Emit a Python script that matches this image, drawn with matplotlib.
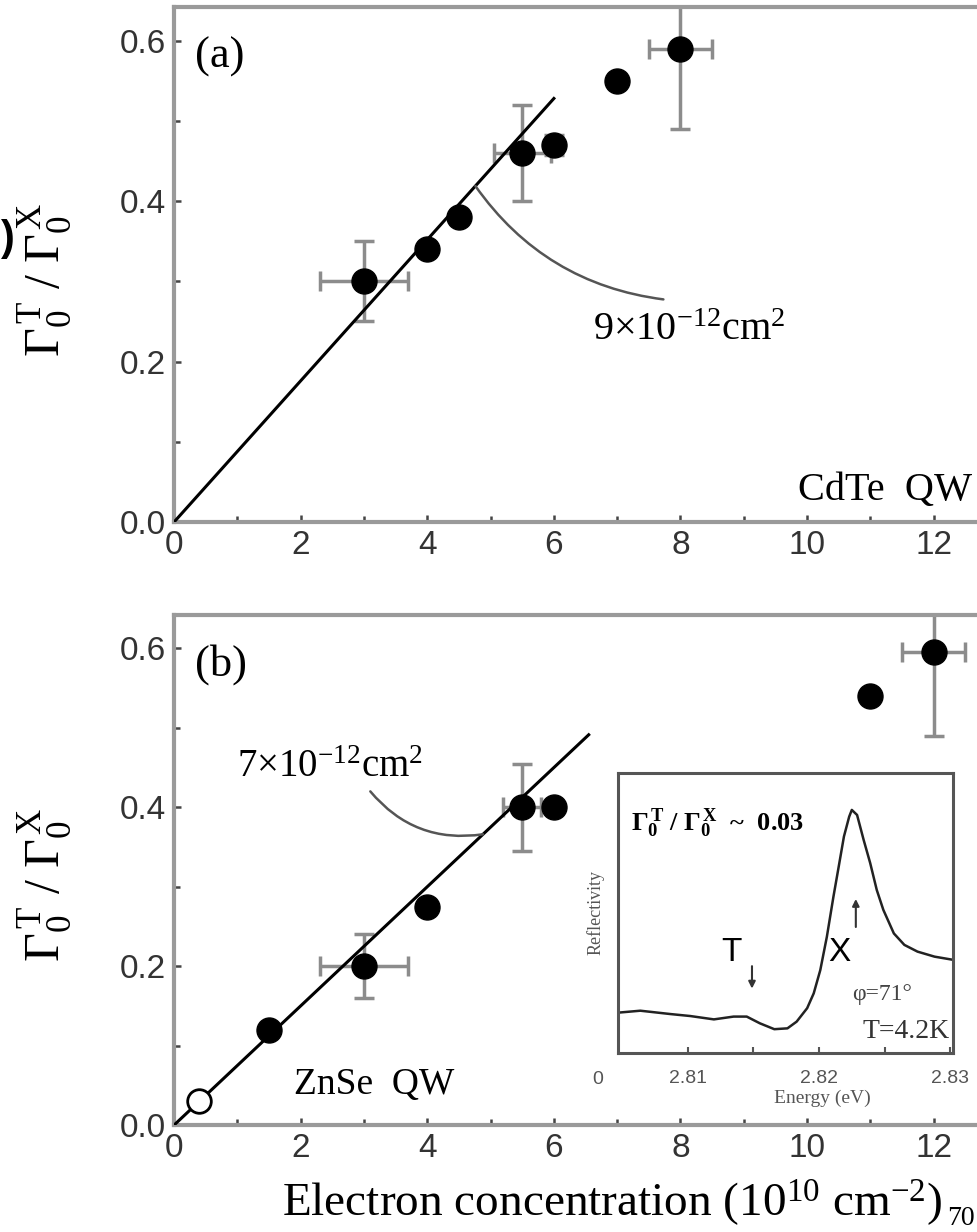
import matplotlib
matplotlib.use("Agg")
import matplotlib.pyplot as plt
import numpy as np
from matplotlib.ticker import MultipleLocator

# ---- panel (a): CdTe QW ----
cdte_n = [3.0, 4.0, 4.5, 5.5, 6.0, 7.0, 8.0]
cdte_ratio = [0.30, 0.34, 0.38, 0.46, 0.47, 0.55, 0.59]
cdte_xerr = [0.7, 0.0, 0.0, 0.45, 0.0, 0.0, 0.5]
cdte_yerr = [0.05, 0.0, 0.0, 0.06, 0.012, 0.0, 0.10]
cdte_slope = 0.088          # 9x10^-12 cm^2
cdte_fit_range = [0.0, 6.0]

# ---- panel (b): ZnSe QW ----
znse_n = [1.5, 3.0, 4.0, 5.5, 6.0, 11.0, 12.0]
znse_ratio = [0.12, 0.20, 0.275, 0.40, 0.40, 0.54, 0.595]
znse_xerr = [0.0, 0.7, 0.0, 0.3, 0.0, 0.0, 0.5]
znse_yerr = [0.0, 0.04, 0.0, 0.055, 0.0, 0.0, 0.105]
znse_open_n = [0.4]
znse_open_ratio = [0.03]
znse_slope = 0.075          # 7x10^-12 cm^2
znse_fit_range = [0.0, 6.55]

# ---- inset: reflectivity spectrum ----
energy = [2.8047, 2.8064, 2.8087, 2.8102, 2.8120, 2.8135, 2.8145, 2.8155,
          2.8166, 2.8176, 2.8183, 2.8191, 2.8196, 2.8201, 2.8206, 2.8211,
          2.8215, 2.8219, 2.8223, 2.8225, 2.8229, 2.8234, 2.8239, 2.8244,
          2.8249, 2.8257, 2.8265, 2.8275, 2.8288, 2.8303]
reflectivity = [0.144, 0.151, 0.139, 0.132, 0.120, 0.130, 0.130, 0.106,
                0.085, 0.088, 0.112, 0.160, 0.213, 0.296, 0.415, 0.558,
                0.665, 0.773, 0.844, 0.868, 0.850, 0.761, 0.678, 0.582,
                0.511, 0.427, 0.386, 0.362, 0.344, 0.332]
inset_ticks = [2.81, 2.82, 2.83]

SERIF = "Liberation Serif"
SANS = "Liberation Sans"
plt.rcParams["font.family"] = SERIF
plt.rcParams["mathtext.fontset"] = "stix"
plt.rcParams["mathtext.default"] = "regular"

SPINE = "#9a9a9a"
BAR = "#8c8c8c"
XMAX = 12.7
YMAX = 0.642

fig = plt.figure(figsize=(9.78, 12.32), dpi=100)
ax_a = fig.add_axes([0.178, 0.5763, 0.822, 0.418])
ax_b = fig.add_axes([0.178, 0.0868, 0.822, 0.4140])


def style_axes(ax):
    ax.set_xlim(0, XMAX)
    ax.set_ylim(0, YMAX)
    ax.spines["right"].set_visible(False)
    for side in ("left", "bottom", "top"):
        ax.spines[side].set_color(SPINE)
        ax.spines[side].set_linewidth(3)
    ax.xaxis.set_major_locator(MultipleLocator(2))
    ax.xaxis.set_minor_locator(MultipleLocator(1))
    ax.yaxis.set_major_locator(MultipleLocator(0.2))
    ax.yaxis.set_minor_locator(MultipleLocator(0.1))
    ax.yaxis.set_major_formatter(matplotlib.ticker.FormatStrFormatter("%.1f"))
    ax.tick_params(which="both", direction="in", color="#444444", width=1.8,
                   top=False, right=False)
    ax.tick_params(which="major", length=5, labelsize=24, labelcolor="#333333",
                   labelfontfamily=SANS, pad=6)
    ax.tick_params(which="minor", length=4)
    ax.set_ylabel(r"$\Gamma_0^{\,T}\ /\ \Gamma_0^{\,X}$", fontsize=36)
    ax.yaxis.set_label_coords(-0.125, 0.47)


def draw_panel(ax, n, ratio, xerr, yerr, slope, fit_range):
    ax.errorbar(n, ratio, xerr=xerr, yerr=yerr, fmt="none", ecolor=BAR,
                elinewidth=2.5, capsize=7, capthick=2.5, zorder=2)
    ax.plot(n, ratio, "o", color="black", markersize=18, zorder=4)
    fx = np.array(fit_range)
    ax.plot(fx, slope * fx, color="black", linewidth=2.2, zorder=3)


# panel (a)
style_axes(ax_a)
draw_panel(ax_a, cdte_n, cdte_ratio, cdte_xerr, cdte_yerr, cdte_slope, cdte_fit_range)
ax_a.annotate("", xy=(4.76, cdte_slope * 4.76), xytext=(7.73, 0.2775),
              arrowprops=dict(arrowstyle="-", color="#555555", lw=1.8,
                              connectionstyle="arc3,rad=-0.22",
                              shrinkA=0, shrinkB=0))
ax_a.text(6.62, 0.262, "9×10$^{-12}$cm$^{2}$", fontsize=29, ha="left", va="top")
ax_a.text(0.33, 0.58, "(a)", fontsize=32, va="center", ha="left")
ax_a.text(12.6, 0.028, "CdTe  QW", fontsize=29, ha="right", va="baseline")

# panel (b)
style_axes(ax_b)
draw_panel(ax_b, znse_n, znse_ratio, znse_xerr, znse_yerr, znse_slope, znse_fit_range)
ax_b.plot(znse_open_n, znse_open_ratio, "o", markerfacecolor="white",
          markeredgecolor="black", markeredgewidth=2, markersize=17, zorder=5)
ax_b.annotate("", xy=(4.88, znse_slope * 4.88), xytext=(3.1, 0.42),
              arrowprops=dict(arrowstyle="-", color="#555555", lw=1.8,
                              connectionstyle="arc3,rad=0.28",
                              shrinkA=0, shrinkB=0))
ax_b.text(1.0, 0.4375, "7×10$^{-12}$cm$^{2}$", fontsize=28, ha="left", va="baseline")
ax_b.text(0.33, 0.58, "(b)", fontsize=32, va="center", ha="left")
ax_b.text(1.9, 0.039, "ZnSe  QW", fontsize=27, ha="left", va="baseline")

# inset
ax_in = fig.add_axes([0.6319, 0.1453, 0.3425, 0.2273])
ax_in.plot(energy, reflectivity, color="#222222", linewidth=1.8)
ax_in.set_xlim(2.8047, 2.8302)
ax_in.set_ylim(0, 1)
ax_in.set_yticks([])
ax_in.set_xticks(inset_ticks)
ax_in.set_xticks([2.815, 2.825], minor=True)
ax_in.set_xticklabels([f"{t:.2f}" for t in inset_ticks])
ax_in.tick_params(which="both", direction="in", length=4, width=1.5, color="#555555",
                  labelsize=14, labelcolor="#555555", labelfontfamily=SANS, pad=12)
for s in ax_in.spines.values():
    s.set_color("#555555")
    s.set_linewidth(2.2)
ax_in.set_xlabel("Energy (eV)", fontsize=14, color="#555555", labelpad=4)
ax_in.xaxis.set_label_coords(0.61, -0.13)
ax_in.set_ylabel("Reflectivity", fontsize=13, color="#555555", labelpad=10)
ax_in.text(-0.06, -0.065, "0", transform=ax_in.transAxes, fontsize=14,
           color="#555555", family=SANS, ha="center", va="top")
ax_in.text(0.04, 0.82, r"$\Gamma_0^{\,T}$ / $\Gamma_0^{\,X}$  ~  0.03", transform=ax_in.transAxes,
           fontsize=19, fontweight="bold", ha="left", va="center")
ax_in.text(0.34, 0.36, "T", transform=ax_in.transAxes, fontsize=24, family=SANS,
           ha="center", va="center")
ax_in.annotate("", xy=(0.40, 0.22), xytext=(0.40, 0.32), xycoords="axes fraction",
               arrowprops=dict(arrowstyle="-|>", color="#333333", lw=1.5, mutation_scale=10))
ax_in.text(0.66, 0.36, "X", transform=ax_in.transAxes, fontsize=24, family=SANS,
           ha="center", va="center")
ax_in.annotate("", xy=(0.71, 0.56), xytext=(0.71, 0.44), xycoords="axes fraction",
               arrowprops=dict(arrowstyle="-|>", color="#333333", lw=1.5, mutation_scale=10))
ax_in.text(0.70, 0.21, "φ=71°", transform=ax_in.transAxes, fontsize=17, family=SERIF,
           color="#444444", ha="left", va="center")
ax_in.text(0.99, 0.075, "T=4.2K", transform=ax_in.transAxes, fontsize=20, family=SERIF,
           color="#333333", ha="right", va="center")

# shared x label and stray marks from the page
fig.text(0.626, 0.024, "Electron concentration (10$^{10}$ cm$^{-2}$)", fontsize=34,
         ha="center", va="center")
fig.text(0.983, 0.011, "70", fontsize=20, ha="center", va="center")
fig.text(0.008, 0.806, ")", fontsize=30, family=SANS, fontweight="bold",
         ha="center", va="center")

fig.savefig("out.png", dpi=100)
